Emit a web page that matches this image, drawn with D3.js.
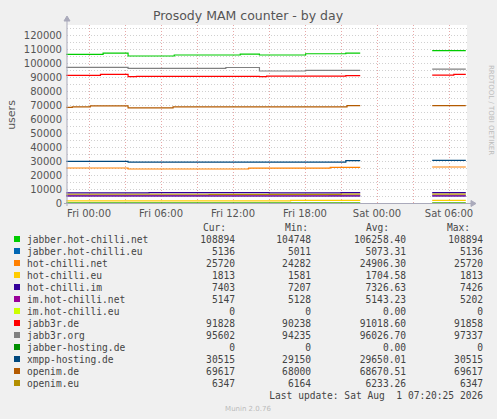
<!DOCTYPE html>
<html><head><meta charset="utf-8">
<script src="https://cdn.jsdelivr.net/npm/d3@7"></script>
<style>body{margin:0;background:#f0f0f0}svg{display:block}</style></head>
<body><svg id="c" width="497" height="419"></svg>
<script>
const names=["jabber.hot-chilli.net","jabber.hot-chilli.eu","hot-chilli.net","hot-chilli.eu","hot-chilli.im","im.hot-chilli.net","im.hot-chilli.eu","jabb3r.de","jabb3r.org","jabber-hosting.de","xmpp-hosting.de","openim.de","openim.eu"];
const colors=["#00CC00","#0066B3","#FF8000","#FFCC00","#330099","#990099","#CCFF00","#FF0000","#808080","#008F00","#00487D","#B35A00","#B38F00"];
const cur=["108894","5136","25720","1813","7403","5147","0","91828","95602","0","30515","69617","6347"];
const mins=["104748","5011","24282","1581","7207","5128","0","90238","94235","0","29150","68000","6164"];
const avgs=["106258.40","5073.31","24906.30","1704.58","7326.63","5143.23","0.00","91018.60","96026.70","0.00","29650.01","68670.51","6233.26"];
const maxs=["108894","5136","25720","1813","7426","5202","0","91858","97337","0","30515","69617","6347"];
const seg1=[-1.9,22.6], seg2=[28.6,31.4];
const s1=[
 [[-1.9,106200],[1.17,107000],[3.25,105000],[7.1,105700],[12.6,106400],[14.2,105700],[18.05,106600],[21.4,107100]],
 [[-1.9,5050],[10,5011],[20,5136]],
 [[-1.9,25000],[3.25,24300],[13.3,24900],[20.1,25500]],
 [[-1.9,1581],[16.8,1813]],
 [[-1.9,7300],[5,7426],[15,7207],[21,7403]],
 [[-1.9,5147]],
 [[-1.9,0]],
 [[-1.9,91200],[0.95,91850],[3.25,90240],[3.95,90500],[14.2,90240],[14.8,90600],[21.4,91000]],
 [[-1.9,96900],[3.25,96100],[11.4,96800],[14.2,94300],[18.05,94800]],
 [[-1.9,0]],
 [[-1.9,29800],[3.25,29150],[21.4,30300]],
 [[-1.9,68300],[-1.4,68700],[0.1,69400],[3.25,68000],[7.0,68600],[21.5,69617]],
 [[-1.9,6250],[10,6164],[21,6347]]
];
const s2=[
 [[28.6,108894]],[[28.6,5136]],[[28.6,25720]],[[28.6,1813]],[[28.6,7403]],[[28.6,5147]],[[28.6,0]],
 [[28.6,91300],[30.4,91828]],[[28.6,95602]],[[28.6,0]],[[28.6,30515]],[[28.6,69617]],[[28.6,6347]]
];
const yTicks=[0,10000,20000,30000,40000,50000,60000,70000,80000,90000,100000,110000,120000];
const xTicks=[0,6,12,18,24,30], xLabels=["Fri 00:00","Fri 06:00","Fri 12:00","Fri 18:00","Sat 00:00","Sat 06:00"];

const svg=d3.select("#c");
const L=67,R=467,T=25,B=203;
const x=d3.scaleLinear().domain([-1.84,31.5]).range([L,R]);
const y=d3.scaleLinear().domain([0,127143]).range([B,T]);
svg.append("rect").attr("x",L).attr("y",T).attr("width",R-L).attr("height",B-T).attr("fill","#fff");
for(let v=5000;v<=125000;v+=5000) svg.append("line").attr("x1",L).attr("x2",R).attr("y1",Math.round(y(v))+.5).attr("y2",Math.round(y(v))+.5).attr("stroke","#d0d0d0").attr("stroke-dasharray","1,2");
for(let h=0;h<=30;h+=3) svg.append("line").attr("x1",Math.round(x(h))+.5).attr("x2",Math.round(x(h))+.5).attr("y1",T).attr("y2",B).attr("stroke","#e8a8a8").attr("stroke-dasharray","1,2");
const line=d3.line().x(d=>x(d[0])).y(d=>y(d[1])).curve(d3.curveStepAfter);
names.forEach((n,i)=>{
  [[s1[i],seg1[1]],[s2[i],seg2[1]]].forEach(([pts,end])=>{
    const p=pts.concat([[end,pts[pts.length-1][1]]]);
    svg.append("path").attr("d",line(p)).attr("fill","none").attr("stroke",colors[i]).attr("stroke-width",1.2);
  });
});
const ax=svg.append("g").attr("stroke","#aab").attr("fill","#aab");
ax.append("line").attr("x1",L).attr("x2",L).attr("y1",B+3).attr("y2",T-6);
ax.append("path").attr("d",`M${L-3},${T-4}L${L},${T-9}L${L+3},${T-4}Z`);
ax.append("line").attr("x1",L-3).attr("x2",R+6).attr("y1",B+.5).attr("y2",B+.5);
ax.append("path").attr("d",`M${R+4},${B-2.5}L${R+9},${B+.5}L${R+4},${B+3.5}Z`);
const tf="DejaVu Sans";
yTicks.forEach(v=>svg.append("text").attr("x",L-5).attr("y",y(v)+4).attr("text-anchor","end").attr("font-family",tf).attr("font-size",10).attr("fill","#555").text(v));
xTicks.forEach((h,i)=>svg.append("text").attr("x",x(h)).attr("y",B+14).attr("text-anchor","middle").attr("font-family",tf).attr("font-size",10).attr("fill","#555").text(xLabels[i]));
svg.append("text").attr("x",248).attr("y",20).attr("text-anchor","middle").attr("font-family",tf).attr("font-size",12.5).attr("fill","#555").text("Prosody MAM counter - by day");
svg.append("text").attr("transform","translate(15,115) rotate(-90)").attr("text-anchor","middle").attr("font-family",tf).attr("font-size",11).attr("fill","#555").text("users");
svg.append("text").attr("transform","translate(489,110) rotate(90)").attr("text-anchor","middle").attr("font-family",tf).attr("font-size",7).attr("fill","#bbb").text("RRDTOOL / TOBI OETIKER");
const mf="DejaVu Sans Mono",fs=9.6;
const hdr=[["Cur:",226],["Min:",308],["Avg:",389],["Max:",470]];
hdr.forEach(h=>svg.append("text").attr("x",h[1]).attr("y",231).attr("text-anchor","end").attr("font-family",mf).attr("font-size",fs).attr("fill","#444").text(h[0]));
names.forEach((n,i)=>{
  const yy=243+i*12;
  svg.append("rect").attr("x",14).attr("y",yy-7).attr("width",6).attr("height",6).attr("fill",colors[i]);
  svg.append("text").attr("x",27).attr("y",yy).attr("font-family",mf).attr("font-size",fs).attr("fill","#444").text(n);
  [[cur,235],[mins,311],[avgs,406],[maxs,483]].forEach(([a,xx])=>svg.append("text").attr("x",xx).attr("y",yy).attr("text-anchor","end").attr("font-family",mf).attr("font-size",fs).attr("fill","#444").text(a[i]));
});
svg.append("text").attr("x",483).attr("y",399).attr("text-anchor","end").attr("font-family",mf).attr("font-size",fs).attr("fill","#444").attr("xml:space","preserve").text("Last update: Sat Aug  1 07:20:25 2026");
svg.append("text").attr("x",248).attr("y",411).attr("text-anchor","middle").attr("font-family",tf).attr("font-size",7).attr("fill","#bbb").text("Munin 2.0.76");
</script></body></html>
